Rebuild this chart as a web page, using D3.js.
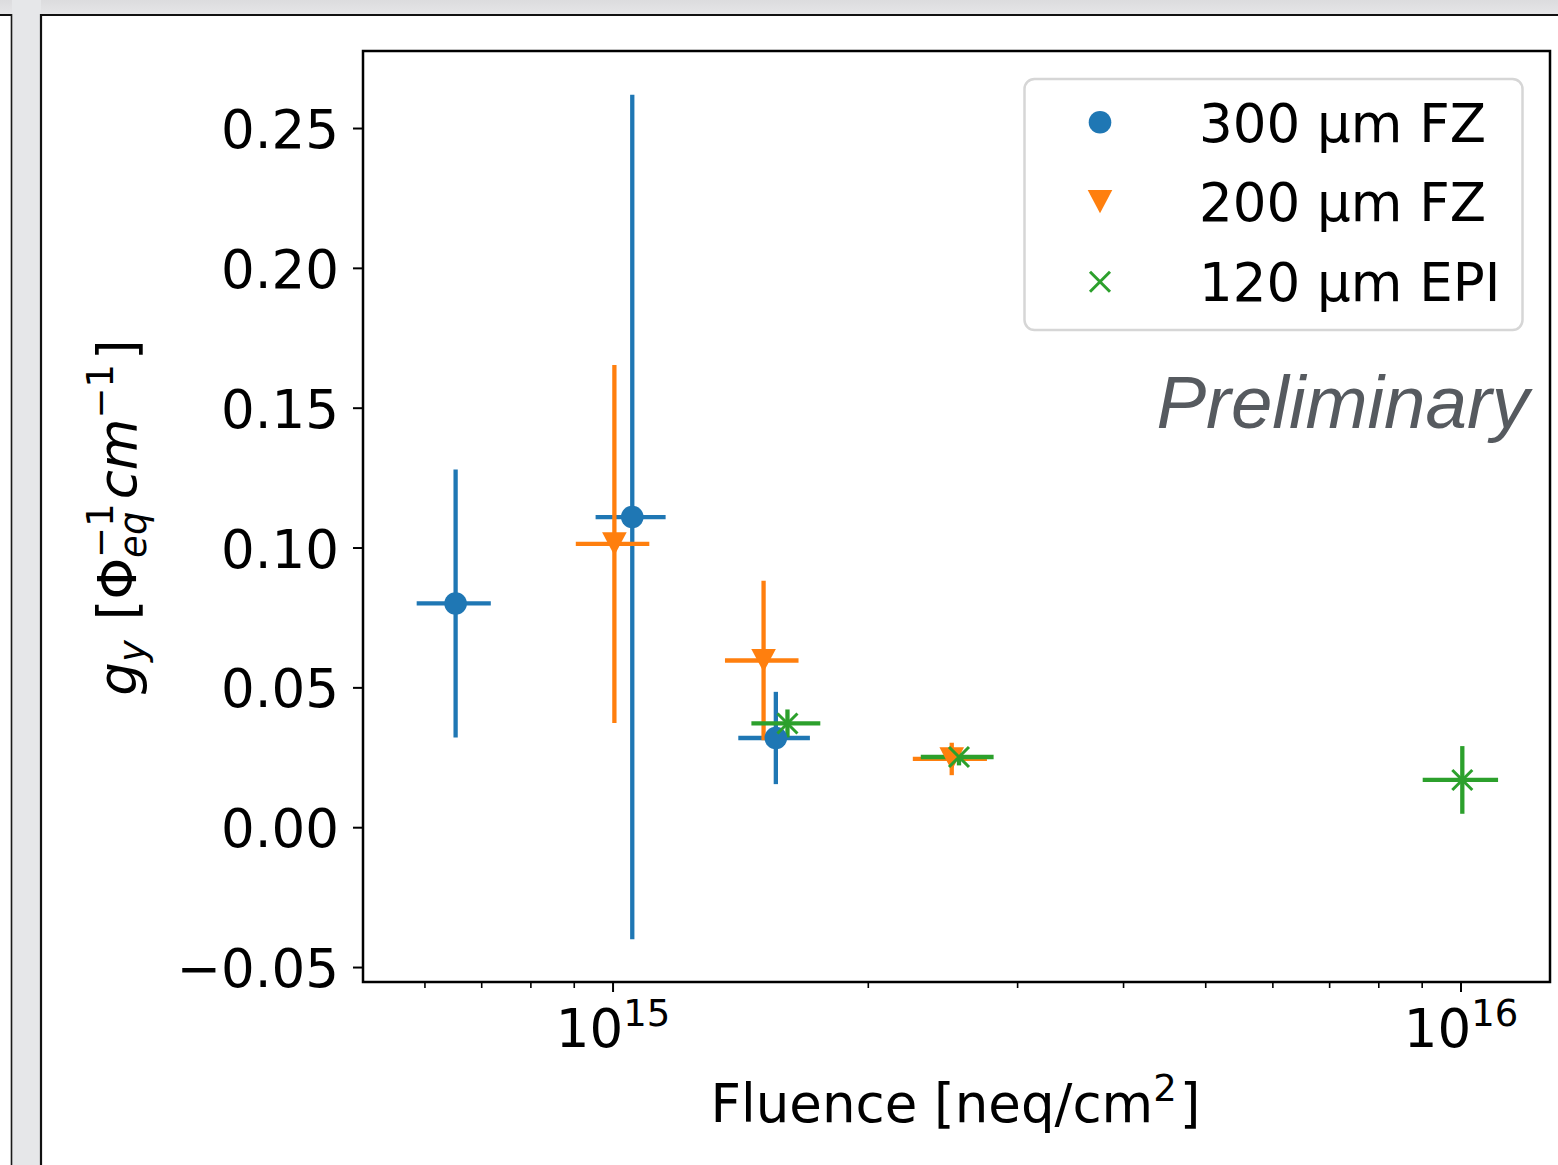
<!DOCTYPE html>
<html>
<head>
<meta charset="utf-8">
<script src="https://cdn.jsdelivr.net/npm/d3@7"></script>
<style>
  body { margin: 0; background: #ffffff; }
  svg { display: block; }
</style>
</head>
<body>
<svg id="chart" width="1558" height="1165"></svg>
<script>
// ---- data: g_y versus fluence for three sensor types ----
const seriesNames = ["300 μm FZ", "200 μm FZ", "120 μm EPI"];
const seriesColors = ["#1f77b4", "#ff7f0e", "#2ca02c"];
const seriesMarkers = ["circle", "triangleDown", "cross"];

const fz300Fluence    = [6.53e14, 1.055e15, 1.558e15];
const fz300FluenceErr = [0.655e14, 1.0e14, 1.51e14];
const fz300Gy         = [0.0800, 0.1109, 0.0319];
const fz300GyErr      = [0.0479, 0.1510, 0.0165];

const fz200Fluence    = [1.005e15, 1.507e15, 2.512e15];
const fz200FluenceErr = [1.0e14, 1.5e14, 2.52e14];
const fz200Gy         = [0.1013, 0.0596, 0.0244];
const fz200GyErr      = [0.0640, 0.0285, 0.0058];

const epi120Fluence    = [1.608e15, 2.562e15, 1.005e16];
const epi120FluenceErr = [1.5e14, 2.525e14, 1.025e15];
const epi120Gy         = [0.0371, 0.0251, 0.0169];
const epi120GyErr      = [0.0050, 0.0030, 0.0121];

const yTickValues = [-0.05, 0.00, 0.05, 0.10, 0.15, 0.20, 0.25];
const yTickLabels = ["−0.05", "0.00", "0.05", "0.10", "0.15", "0.20", "0.25"];
const xMajorTicks = [1e15, 1e16];
const xMajorExponents = ["15", "16"];
const xMinorTicks = [6e14, 7e14, 8e14, 9e14, 2e15, 3e15, 4e15, 5e15, 6e15, 7e15, 8e15, 9e15];

const series = [
  { fluence: fz300Fluence, fluenceErr: fz300FluenceErr, gy: fz300Gy, gyErr: fz300GyErr },
  { fluence: fz200Fluence, fluenceErr: fz200FluenceErr, gy: fz200Gy, gyErr: fz200GyErr },
  { fluence: epi120Fluence, fluenceErr: epi120FluenceErr, gy: epi120Gy, gyErr: epi120GyErr }
].map((s, i) => ({
  name: seriesNames[i], color: seriesColors[i], marker: seriesMarkers[i],
  points: s.fluence.map((f, j) => ({ f, fe: s.fluenceErr[j], g: s.gy[j], ge: s.gyErr[j] }))
}));

// ---- layout ----
const FONT = "'DejaVu Sans', sans-serif";
const FS = 53;
const plot = { left: 363, right: 1550, top: 51, bottom: 982 };

const svg = d3.select("#chart");

// window chrome around the figure
const defs = svg.append("defs");
const grad = defs.append("linearGradient").attr("id", "topbar").attr("x1", 0).attr("y1", 0).attr("x2", 0).attr("y2", 1);
grad.append("stop").attr("offset", "0%").attr("stop-color", "#dcdcde");
grad.append("stop").attr("offset", "100%").attr("stop-color", "#e6e6e8");
svg.append("rect").attr("x", 0).attr("y", 0).attr("width", 1558).attr("height", 15).attr("fill", "url(#topbar)");
svg.append("rect").attr("x", 12).attr("y", 0).attr("width", 29).attr("height", 1165).attr("fill", "#e6e7e9");
svg.append("line").attr("x1", 0).attr("x2", 12).attr("y1", 15).attr("y2", 15).attr("stroke", "#111").attr("stroke-width", 2);
svg.append("line").attr("x1", 40).attr("x2", 1558).attr("y1", 15).attr("y2", 15).attr("stroke", "#111").attr("stroke-width", 2);
svg.append("line").attr("x1", 11.5).attr("x2", 11.5).attr("y1", 14).attr("y2", 1165).attr("stroke", "#1a1a1a").attr("stroke-width", 1.6);
svg.append("line").attr("x1", 41).attr("x2", 41).attr("y1", 14).attr("y2", 1165).attr("stroke", "#111").attr("stroke-width", 2.2);

// ---- scales ----
const x = d3.scaleLog().domain([5.078e14, 1.2752e16]).range([plot.left, plot.right]);
const y = d3.scaleLinear().domain([-0.05535, 0.27754]).range([plot.bottom, plot.top]);

// ---- axes ----
const yAxis = svg.append("g")
  .attr("transform", `translate(${plot.left},0)`)
  .call(d3.axisLeft(y).tickValues(yTickValues).tickSize(10).tickPadding(14)
        .tickFormat((d, i) => yTickLabels[i]));
yAxis.select(".domain").remove();
yAxis.selectAll(".tick line").attr("stroke", "#000").attr("stroke-width", 2);
yAxis.selectAll(".tick text")
  .attr("font-family", FONT).attr("font-size", FS).attr("fill", "#000")
  .attr("dy", "0.37em");

const xMinor = svg.append("g")
  .attr("transform", `translate(0,${plot.bottom})`)
  .call(d3.axisBottom(x).tickValues(xMinorTicks).tickSize(6).tickFormat(""));
xMinor.select(".domain").remove();
xMinor.selectAll(".tick line").attr("stroke", "#000").attr("stroke-width", 1.6);

const xMajor = svg.append("g")
  .attr("transform", `translate(0,${plot.bottom})`)
  .call(d3.axisBottom(x).tickValues(xMajorTicks).tickSize(10).tickFormat(""));
xMajor.select(".domain").remove();
xMajor.selectAll(".tick line").attr("stroke", "#000").attr("stroke-width", 2);
xMajor.selectAll(".tick text").remove();
xMajor.selectAll(".tick").each(function (d, i) {
  const t = d3.select(this).append("text")
    .attr("x", 0).attr("y", 65)
    .attr("text-anchor", "middle")
    .attr("font-family", FONT).attr("font-size", FS).attr("fill", "#000");
  t.append("tspan").text("10");
  t.append("tspan").attr("font-size", 37).attr("dy", -21).text(xMajorExponents[i]);
});

// ---- error bars (all series first), then markers ----
const bars = svg.append("g");
series.forEach(s => {
  const g = bars.append("g").attr("stroke", s.color).attr("stroke-width", 4.3).attr("fill", "none");
  g.selectAll("line.v").data(s.points).join("line").attr("class", "v")
    .attr("x1", d => x(d.f)).attr("x2", d => x(d.f))
    .attr("y1", d => y(d.g - d.ge)).attr("y2", d => y(d.g + d.ge));
  g.selectAll("line.h").data(s.points).join("line").attr("class", "h")
    .attr("x1", d => x(d.f - d.fe)).attr("x2", d => x(d.f + d.fe))
    .attr("y1", d => y(d.g)).attr("y2", d => y(d.g));
});

function drawMarker(sel, type, color) {
  if (type === "circle") {
    sel.append("circle").attr("r", 11.3).attr("fill", color);
  } else if (type === "triangleDown") {
    sel.append("path").attr("d", "M-12.3,-11.6L12.3,-11.6L0,11.6Z").attr("fill", color);
  } else {
    sel.append("path").attr("d", "M-10,-10L10,10M-10,10L10,-10")
      .attr("stroke", color).attr("stroke-width", 3).attr("fill", "none");
  }
}

const markers = svg.append("g");
series.forEach(s => {
  markers.append("g").selectAll("g").data(s.points).join("g")
    .attr("transform", d => `translate(${x(d.f)},${y(d.g)})`)
    .each(function () { drawMarker(d3.select(this), s.marker, s.color); });
});

// ---- plot frame ----
svg.append("rect")
  .attr("x", plot.left).attr("y", plot.top)
  .attr("width", plot.right - plot.left).attr("height", plot.bottom - plot.top)
  .attr("fill", "none").attr("stroke", "#000").attr("stroke-width", 2.5);

// ---- legend ----
const legend = svg.append("g");
legend.append("rect")
  .attr("x", 1024.5).attr("y", 79).attr("width", 498).attr("height", 251).attr("rx", 10)
  .attr("fill", "#fff").attr("fill-opacity", 0.8)
  .attr("stroke", "#d6d6d6").attr("stroke-width", 2.5);
const legendRowY = [122.3, 201.7, 281.7];
series.forEach((s, i) => {
  const row = legend.append("g").attr("transform", `translate(1100,${legendRowY[i]})`);
  drawMarker(row, s.marker, s.color);
  row.append("text").attr("x", 99).attr("y", 19.5)
    .attr("font-family", FONT).attr("font-size", FS).attr("fill", "#000")
    .text(s.name);
});

// ---- watermark ----
svg.append("text")
  .attr("x", 1529).attr("y", 428).attr("text-anchor", "end")
  .attr("font-family", "'Liberation Sans', Arial, sans-serif").attr("font-style", "italic")
  .attr("font-size", 74.5).attr("fill", "#565a5f")
  .text("Preliminary");

// ---- x axis label ----
const xl = svg.append("text")
  .attr("x", (plot.left + plot.right) / 2 - 1).attr("y", 1122)
  .attr("text-anchor", "middle")
  .attr("font-family", FONT).attr("font-size", FS).attr("fill", "#000");
xl.append("tspan").text("Fluence [neq/cm");
xl.append("tspan").attr("font-size", 37).attr("dy", -21).text("2");
xl.append("tspan").attr("dx", 3).attr("dy", 21).text("]");

// ---- y axis label (math-style pieces laid out along the rotated baseline) ----
const SUB = 37;
const pieces = [
  { t: "g", size: FS, italic: true, shift: 0 },
  { t: "y", size: SUB, italic: true, shift: 9, gap: 3 },
  { t: "\u00a0[", size: FS, italic: false, shift: 0 },
  { t: "Φ", size: FS, italic: false, shift: 0 },
  { stack: [ { t: "eq", size: SUB, italic: true, shift: 10 },
             { t: "−1", size: SUB, italic: false, shift: -23 } ], gap: 4 },
  { t: "cm", size: FS, italic: true, shift: 0 },
  { t: "−1", size: SUB, italic: false, shift: -23, gap: 4 },
  { t: "]", size: FS, italic: false, shift: 0 }
];
const yl = svg.append("g");
let cursor = 0;
function putPiece(p, at) {
  const el = yl.append("text")
    .attr("x", at).attr("y", p.shift)
    .attr("font-family", FONT).attr("font-size", p.size)
    .attr("font-style", p.italic ? "italic" : "normal").attr("fill", "#000")
    .text(p.t);
  return el.node().getComputedTextLength();
}
pieces.forEach(p => {
  if (p.stack) {
    const w = p.stack.map(q => putPiece(q, cursor));
    cursor += Math.max(...w);
  } else {
    cursor += putPiece(p, cursor);
  }
  cursor += p.gap || 0;
});
const yMid = (plot.top + plot.bottom) / 2;
yl.attr("transform", `translate(136,${yMid + cursor / 2 + 1}) rotate(-90)`);
</script>
</body>
</html>
